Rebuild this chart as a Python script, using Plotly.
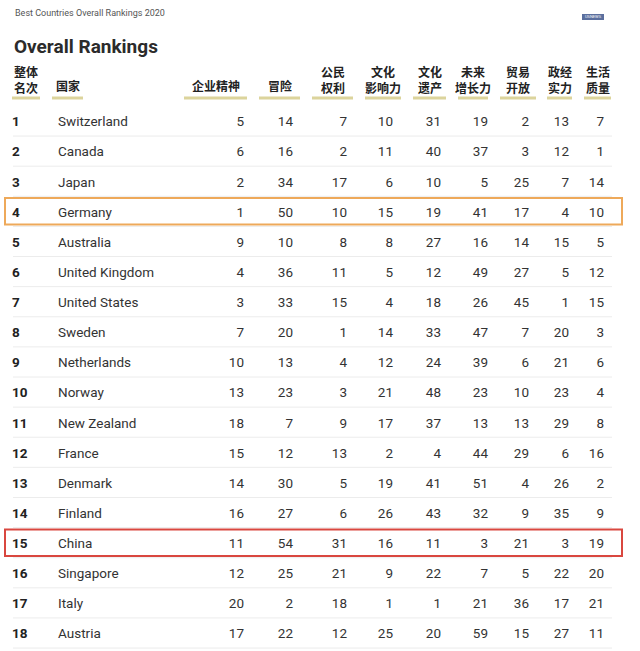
import plotly.graph_objects as go

# ---- data ----
RANKS = list(range(1, 19))
COUNTRIES = [
    "Switzerland", "Canada", "Japan", "Germany", "Australia", "United Kingdom",
    "United States", "Sweden", "Netherlands", "Norway", "New Zealand", "France",
    "Denmark", "Finland", "China", "Singapore", "Italy", "Austria",
]
HEADERS = ["企业精神", "冒险", "公民<br>权利", "文化<br>影响力", "文化<br>遗产",
           "未来<br>增长力", "贸易<br>开放", "政经<br>实力", "生活<br>质量"]

ENTREPRENEURSHIP = [5, 6, 2, 1, 9, 4, 3, 7, 10, 13, 18, 15, 14, 16, 11, 12, 20, 17]
ADVENTURE = [14, 16, 34, 50, 10, 36, 33, 20, 13, 23, 7, 12, 30, 27, 54, 25, 2, 22]
CITIZENSHIP = [7, 2, 17, 10, 8, 11, 15, 1, 4, 3, 9, 13, 5, 6, 31, 21, 18, 12]
CULTURAL_INFLUENCE = [10, 11, 6, 15, 8, 5, 4, 14, 12, 21, 17, 2, 19, 26, 16, 9, 1, 25]
HERITAGE = [31, 40, 10, 19, 27, 12, 18, 33, 24, 48, 37, 4, 41, 43, 11, 22, 1, 20]
MOVERS = [19, 37, 5, 41, 16, 49, 26, 47, 39, 23, 13, 44, 51, 32, 3, 7, 21, 59]
OPEN_FOR_BUSINESS = [2, 3, 25, 17, 14, 27, 45, 7, 6, 10, 13, 29, 4, 9, 21, 5, 36, 15]
POWER = [13, 12, 7, 4, 15, 5, 1, 20, 21, 23, 29, 6, 26, 35, 3, 22, 17, 27]
QUALITY_OF_LIFE = [7, 1, 14, 10, 5, 12, 15, 3, 6, 4, 8, 16, 2, 9, 19, 20, 21, 11]

HIGHLIGHTS = {4: "#eea95a", 15: "#d9473f"}

# ---- layout constants (pixels) ----
W, H = 640, 651
ROW1_PX, ROW18_PX = 123, 635   # text renders ~2px above its anchor
COL_RIGHT = [244, 293, 347, 393, 441, 488, 529, 569, 604]
HEAD_SPANS = [(184, 247), (259, 300), (312, 353), (365, 401), (413, 446),
              (458, 488), (500, 536), (547, 572), (584, 611)]
RANK_X, COUNTRY_X = 12, 58
FONT = "Roboto, 'Noto Sans CJK SC', sans-serif"
CJK = "'Noto Sans CJK SC', Roboto, sans-serif"

step = (ROW18_PX - ROW1_PX) / 17
y_top = 1 - ROW1_PX / step
y_bot = 1 + (H - ROW1_PX) / step
nudge = -2 / step  # move row lines/boxes up to the visual text centre


def py(px):
    return 1 - px / H


columns = [ENTREPRENEURSHIP, ADVENTURE, CITIZENSHIP, CULTURAL_INFLUENCE, HERITAGE,
           MOVERS, OPEN_FOR_BUSINESS, POWER, QUALITY_OF_LIFE]

fig = go.Figure()
fig.add_trace(go.Scatter(
    x=[RANK_X] * len(RANKS), y=RANKS, text=[f"<b>{r}</b>" for r in RANKS],
    mode="text", textposition="middle right",
    textfont=dict(family=FONT, size=13.5, color="#222222"), hoverinfo="skip",
))
fig.add_trace(go.Scatter(
    x=[COUNTRY_X] * len(RANKS), y=RANKS, text=COUNTRIES,
    mode="text", textposition="middle right",
    textfont=dict(family=FONT, size=13.5, color="#333333"), hoverinfo="skip",
))
for xr, vals in zip(COL_RIGHT, columns):
    fig.add_trace(go.Scatter(
        x=[xr] * len(vals), y=RANKS, text=[str(v) for v in vals],
        mode="text", textposition="middle left",
        textfont=dict(family=FONT, size=13.5, color="#333333"), hoverinfo="skip",
    ))

shapes = []
for r in RANKS:
    shapes.append(dict(type="line", xref="x", yref="y", x0=13, x1=612,
                       y0=r + 0.5 + nudge, y1=r + 0.5 + nudge,
                       line=dict(color="#ececec", width=1)))
for r, c in HIGHLIGHTS.items():
    shapes.append(dict(type="rect", xref="x", yref="y", x0=5, x1=622,
                       y0=r - 0.44 + nudge, y1=r + 0.44 + nudge,
                       line=dict(color=c, width=2), fillcolor="rgba(0,0,0,0)"))
# header underlines
for x0, x1 in [(12, 40), (52, 83)] + HEAD_SPANS:
    shapes.append(dict(type="line", xref="x", yref="paper", x0=x0, x1=x1,
                       y0=py(98), y1=py(98), line=dict(color="#dcd49c", width=3)))
# logo
shapes.append(dict(type="rect", xref="x", yref="paper", x0=582, x1=604,
                   y0=py(20), y1=py(14), line=dict(width=0), fillcolor="#5b6f9e"))

annotations = [
    dict(text="Best Countries Overall Rankings 2020", x=13, y=py(13), xanchor="left",
         font=dict(family=FONT, size=9, color="#555555")),
    dict(text="<b>Overall Rankings</b>", x=12, y=py(47), xanchor="left",
         font=dict(family=FONT, size=19, color="#2b2b2b")),
    dict(text="USNEWS", x=593, y=py(17), xanchor="center",
         font=dict(family=FONT, size=4, color="#ffffff")),
    dict(text="<b>整体<br>名次</b>", x=12, y=py(80), xanchor="left",
         font=dict(family=CJK, size=12, color="#222222")),
    dict(text="<b>国家</b>", x=67.5, y=py(86), xanchor="center",
         font=dict(family=CJK, size=12, color="#222222")),
]
for (x0, x1), h in zip(HEAD_SPANS, HEADERS):
    two = "<br>" in h
    annotations.append(dict(text=f"<b>{h}</b>", x=(x0 + x1) / 2, y=py(80 if two else 86),
                            xanchor="center",
                            font=dict(family=CJK, size=12, color="#222222")))
for a in annotations:
    a.update(xref="x", yref="paper", yanchor="middle", showarrow=False)

fig.update_layout(
    width=W, height=H, margin=dict(l=0, r=0, t=0, b=0),
    paper_bgcolor="white", plot_bgcolor="white", showlegend=False,
    xaxis=dict(range=[0, W], visible=False, fixedrange=True),
    yaxis=dict(range=[y_bot, y_top], visible=False, fixedrange=True),
    shapes=shapes, annotations=annotations,
)
fig.write_html("out.html", config={"displayModeBar": False},
               post_script="document.body.style.margin='0';")
